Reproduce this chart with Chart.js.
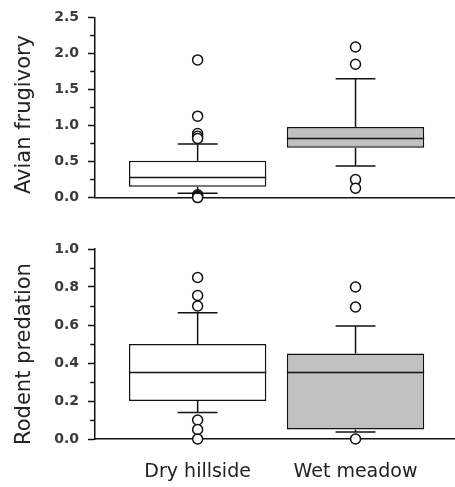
<!DOCTYPE html>
<html><head><meta charset="utf-8">
<script src="https://cdn.jsdelivr.net/npm/chart.js@4/dist/chart.umd.min.js"></script>
<style>
html,body{margin:0;padding:0;background:#fff;}
#wrap{position:relative;width:455px;height:487px;overflow:hidden;background:#fff;}
canvas{position:absolute;left:0;}
#c1{top:0;} #c2{top:230px;}
</style></head><body>
<div id="wrap"><canvas id="c1" width="455" height="215"></canvas><canvas id="c2" width="455" height="257"></canvas></div>
<script>
const categories = ['Dry hillside', 'Wet meadow'];
const boxFills = ['#ffffff', '#c0c0c0'];

const avianTitle = 'Avian frugivory';
const avianTickLabels = ['0.0', '0.5', '1.0', '1.5', '2.0', '2.5'];
const avianLow  = [0.06, 0.44];
const avianQ1   = [0.15, 0.69];
const avianMed  = [0.28, 0.82];
const avianQ3   = [0.51, 0.98];
const avianHigh = [0.745, 1.65];
const avianOutDry = [1.91, 1.13, 0.89, 0.85, 0.82, 0.04, 0.02, 0.0];
const avianOutWet = [2.09, 1.85, 0.25, 0.13];

const rodentTitle = 'Rodent predation';
const rodentTickLabels = ['0.0', '0.2', '0.4', '0.6', '0.8', '1.0'];
const rodentLow  = [0.14, 0.037];
const rodentQ1   = [0.20, 0.05];
const rodentMed  = [0.35, 0.35];
const rodentQ3   = [0.50, 0.45];
const rodentHigh = [0.665, 0.595];
const rodentOutDry = [0.85, 0.755, 0.70, 0.10, 0.05, 0.0];
const rodentOutWet = [0.80, 0.695, 0.0];

const INK = '#111111';
const FONT = 'DejaVu Sans';
const TICK_LEN = 7;
const MINOR_LEN = 4;

const whiskerPlugin = {
  id: 'whiskers',
  afterDatasetDraw(chart, args, opts) {
    if (args.index !== 0) return;
    const ctx = chart.ctx, ys = chart.scales.y;
    const meta = chart.getDatasetMeta(0);
    ctx.save();
    ctx.strokeStyle = INK; ctx.lineWidth = 1.5; ctx.lineCap = 'butt';
    const line = (x1, y1, x2, y2) => { ctx.beginPath(); ctx.moveTo(x1, y1); ctx.lineTo(x2, y2); ctx.stroke(); };
    categories.forEach((c, i) => {
      const bar = meta.data[i];
      const cx = bar.x, half = bar.width / 2, cap = half * 0.29;
      const yq1 = ys.getPixelForValue(opts.q1[i]);
      const yq3 = ys.getPixelForValue(opts.q3[i]);
      const ylo = ys.getPixelForValue(opts.low[i]);
      const yhi = ys.getPixelForValue(opts.high[i]);
      const ymd = ys.getPixelForValue(opts.med[i]);
      line(cx, yq3, cx, yhi); line(cx - cap, yhi, cx + cap, yhi);
      line(cx, yq1, cx, ylo); line(cx - cap, ylo, cx + cap, ylo);
      line(cx - half, ymd, cx + half, ymd);
    });
    ctx.restore();
  }
};

const sideTitlePlugin = {
  id: 'sideTitle',
  afterDraw(chart, args, opts) {
    const ctx = chart.ctx, a = chart.chartArea;
    ctx.save();
    ctx.translate(opts.x, (a.top + a.bottom) / 2 + opts.dy);
    ctx.rotate(-Math.PI / 2);
    ctx.font = opts.size + 'px "' + FONT + '"';
    ctx.fillStyle = '#222';
    ctx.textAlign = 'center'; ctx.textBaseline = 'middle';
    ctx.fillText(opts.text, 0, 0);
    ctx.restore();
  }
};

function makeChart(canvas, s) {
  const boxData = categories.map((c, i) => ({x: i + 1, y: [s.q1[i], s.q3[i]]}));
  const outData = [];
  s.outliers.forEach((arr, i) => arr.forEach(v => outData.push({x: i + 1, y: v})));
  const isMajor = v => Math.abs(v / s.major - Math.round(v / s.major)) < 1e-6;
  const tickIsMajor = c => !c.tick || isMajor(c.tick.value);
  return new Chart(canvas, {
    type: 'bar',
    data: {
      datasets: [
        {type: 'bar', data: boxData, backgroundColor: boxFills, borderColor: INK, borderWidth: 1.5,
         borderSkipped: false, categoryPercentage: 1, barPercentage: 0.87},
        {type: 'scatter', data: outData, pointRadius: 5, pointBackgroundColor: '#ffffff',
         pointBorderColor: INK, pointBorderWidth: 1.5, clip: false}
      ]
    },
    options: {
      responsive: false, animation: false, events: [],
      layout: {padding: s.padding, autoPadding: false},
      plugins: {
        legend: {display: false}, tooltip: {enabled: false},
        whiskers: {q1: s.q1, q3: s.q3, low: s.low, high: s.high, med: s.med},
        sideTitle: {text: s.title, x: s.titleX, dy: s.titleDy, size: 21}
      },
      scales: {
        x: {
          type: 'linear', min: 0.35, max: 2.63, offset: false,
          grid: {display: false, drawTicks: false},
          border: {display: true, color: INK, width: 1.5},
          ticks: {display: s.showX, stepSize: 1, includeBounds: false, padding: 22,
                  color: '#222', font: {family: FONT, size: 19},
                  callback: v => categories[Math.round(v) - 1] ?? ''},
          afterFit: sc => { sc.height = s.xHeight; }
        },
        y: {
          min: 0, max: s.max,
          grid: {display: true, drawOnChartArea: false, drawTicks: true, tickLength: TICK_LEN,
                 tickColor: INK, tickWidth: 1.5,
                 tickBorderDash: c => tickIsMajor(c) ? [] : [MINOR_LEN, 30],
                 tickBorderDashOffset: c => tickIsMajor(c) ? 0 : -(TICK_LEN - 0.75 - MINOR_LEN)},
          border: {display: true, color: INK, width: 1.5},
          ticks: {stepSize: s.step, padding: 9, color: '#3a3a3a', autoSkip: false,
                  font: {family: FONT, size: 14, weight: 'bold'},
                  callback: v => { const t = v.toFixed(1); return (s.tickLabels.includes(t) && isMajor(v)) ? t : ''; }},
          afterFit: sc => { sc.width = 95; }
        }
      }
    },
    plugins: [whiskerPlugin, sideTitlePlugin]
  });
}

makeChart(document.getElementById('c1'), {
  q1: avianQ1, q3: avianQ3, low: avianLow, high: avianHigh, med: avianMed,
  outliers: [avianOutDry, avianOutWet], title: avianTitle, titleX: 25, titleDy: 7,
  tickLabels: avianTickLabels, max: 2.5, step: 0.25, major: 0.5,
  showX: false, xHeight: 0, padding: {top: 15, bottom: 11, left: 0, right: 0}
});
makeChart(document.getElementById('c2'), {
  q1: rodentQ1, q3: rodentQ3, low: rodentLow, high: rodentHigh, med: rodentMed,
  outliers: [rodentOutDry, rodentOutWet], title: rodentTitle, titleX: 25, titleDy: 10,
  tickLabels: rodentTickLabels, max: 1.0, step: 0.1, major: 0.2,
  showX: true, xHeight: 48, padding: {top: 19, bottom: 0, left: 0, right: 0}
});
</script>
</body></html>
